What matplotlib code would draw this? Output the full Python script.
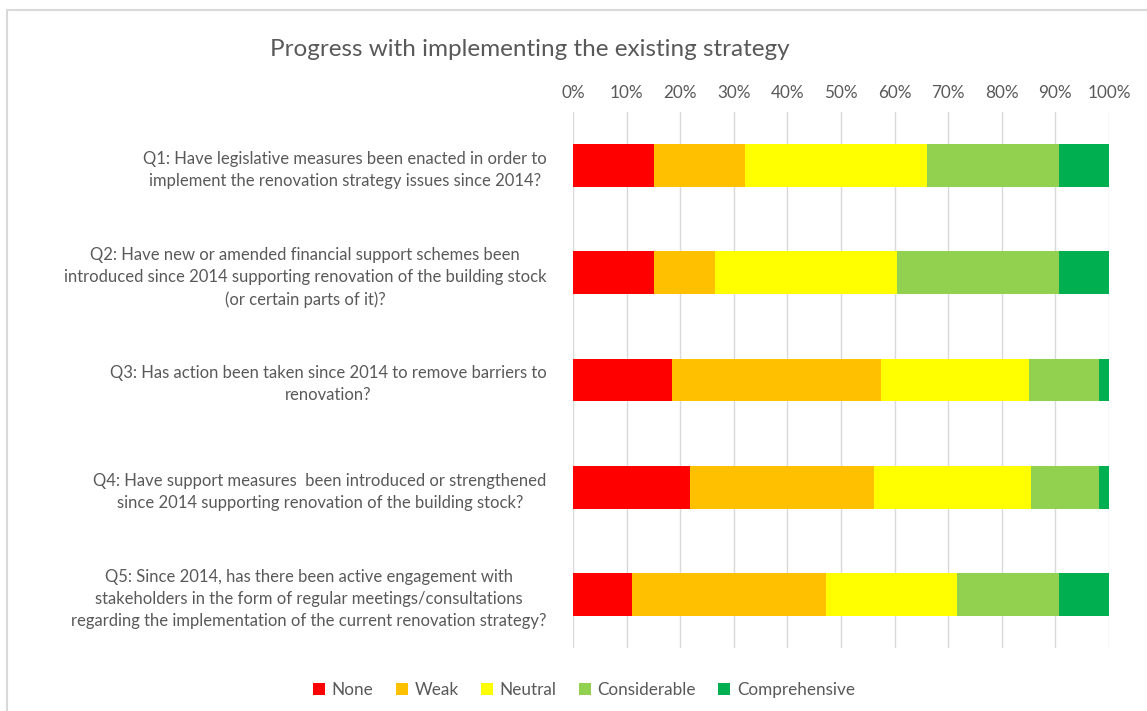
import matplotlib.pyplot as plt
from matplotlib.patches import Rectangle
from matplotlib.ticker import PercentFormatter
import numpy as np

# survey answers, percent of respondents per question
questions = [
    "Q1: Have legislative measures been enacted in order to\nimplement the renovation strategy issues since 2014?",
    "Q2: Have new or amended financial support schemes been\nintroduced since 2014 supporting renovation of the building stock\n(or certain parts of it)?",
    "Q3: Has action been taken since 2014 to remove barriers to\nrenovation?",
    "Q4: Have support measures  been introduced or strengthened\nsince 2014 supporting renovation of the building stock?",
    "Q5: Since 2014, has there been active engagement with\nstakeholders in the form of regular meetings/consultations\nregarding the implementation of the current renovation strategy?",
]
categories = ["None", "Weak", "Neutral", "Considerable", "Comprehensive"]
none_vals = [15.1, 15.1, 18.5, 21.8, 11.1]
weak_vals = [17.0, 11.3, 38.9, 34.3, 36.1]
neutral_vals = [34.0, 34.0, 27.7, 29.4, 24.5]
consid_vals = [24.5, 30.2, 13.0, 12.6, 18.9]
compr_vals = [9.4, 9.4, 1.9, 1.9, 9.4]

colors = ["#ff0000", "#ffc000", "#ffff00", "#92d050", "#00b050"]
txt = "#595959"

plt.rcParams['font.family'] = ['Lato', 'DejaVu Sans']

fig = plt.figure(figsize=(11.47, 7.11), dpi=100)
ax = fig.add_axes([573/1147, 1-648/711, (1109-573)/1147, (648-112)/711])

# chart frame
fig.patches.append(Rectangle((7/1147, -0.1), 1.2, 1-10/711+0.1, transform=fig.transFigure,
                             fill=False, edgecolor="#d9d9d9", lw=1.5))

y = np.arange(len(questions))
series = [none_vals, weak_vals, neutral_vals, consid_vals, compr_vals]
left = np.zeros(len(questions))
for name, vals, c in zip(categories, series, colors):
    ax.barh(y, vals, left=left, height=0.4, color=c, label=name, zorder=3)
    left += np.array(vals)

ax.set_xlim(0, 100)
ax.set_ylim(len(questions) - 0.5, -0.5)
ax.set_xticks(np.arange(0, 101, 10))
ax.xaxis.set_major_formatter(PercentFormatter(decimals=0))
ax.xaxis.tick_top()
ax.grid(axis='x', color="#d9d9d9", lw=1, zorder=0)
ax.set_yticks(y)
ax.set_yticklabels(questions, multialignment='center', fontsize=12, color=txt, linespacing=1.45)
ax.tick_params(axis='y', length=0, pad=19)
ax.tick_params(axis='x', length=0, pad=8, labelsize=12.3, labelcolor=txt)
for s in ax.spines.values():
    s.set_visible(False)

fig.text(270/1147, 1-50/711, "Progress with implementing the existing strategy",
         fontsize=17.5, color=txt, va='center', ha='left')

fig.legend(loc='center', bbox_to_anchor=(584/1147, 1-690/711), ncol=5, frameon=False,
           handlelength=0.7, handleheight=0.7, handletextpad=0.4, columnspacing=1.3,
           fontsize=12.3, labelcolor=txt)

fig.savefig("out.png", dpi=100)
